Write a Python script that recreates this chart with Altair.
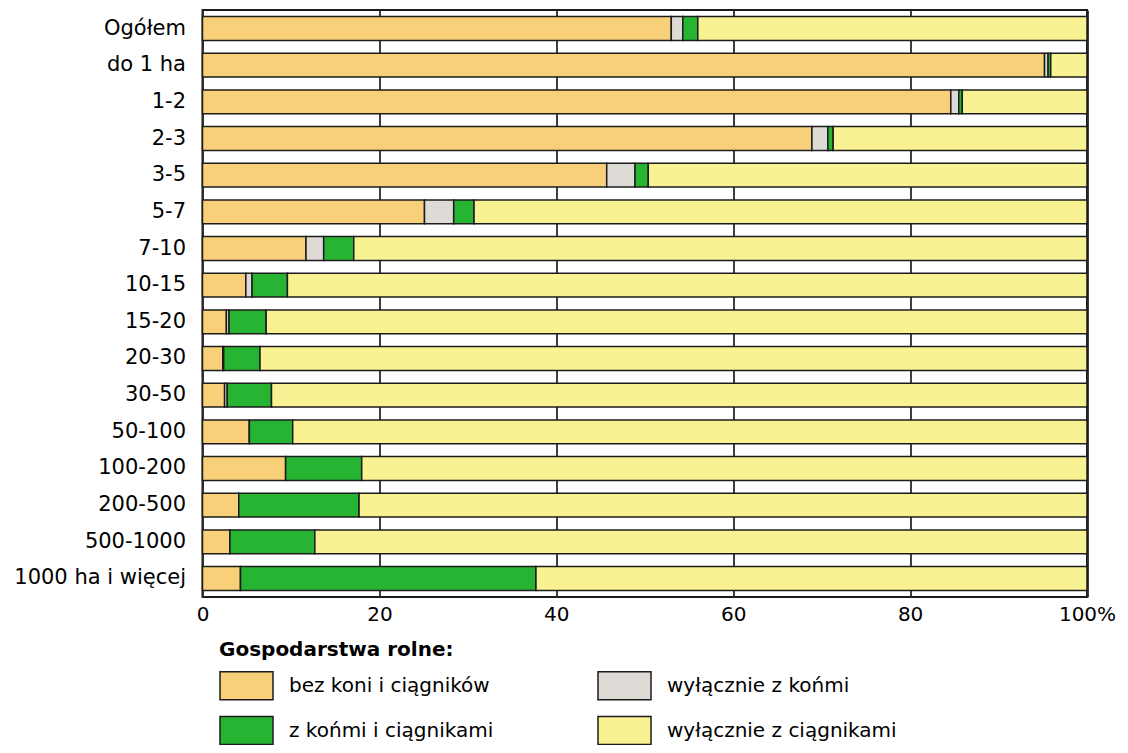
import altair as alt
import pandas as pd

categories = ["Ogółem", "do 1 ha", "1-2", "2-3", "3-5", "5-7", "7-10", "10-15",
              "15-20", "20-30", "30-50", "50-100", "100-200", "200-500",
              "500-1000", "1000 ha i więcej"]
bez_koni = [53.0, 95.2, 84.6, 68.9, 45.7, 25.1, 11.7, 4.9, 2.7, 2.3, 2.5, 5.3, 9.4, 4.1, 3.1, 4.3]
tylko_konie = [1.3, 0.4, 0.9, 1.8, 3.2, 3.3, 2.0, 0.7, 0.3, 0.1, 0.3, 0.0, 0.0, 0.0, 0.0, 0.0]
konie_ciagniki = [1.7, 0.3, 0.4, 0.6, 1.5, 2.3, 3.4, 4.0, 4.2, 4.1, 5.0, 4.9, 8.6, 13.6, 9.6, 33.4]
tylko_ciagniki = [44.0, 4.1, 14.1, 28.7, 49.6, 69.3, 82.9, 90.4, 92.8, 93.5, 92.2, 89.8, 82.0, 82.3, 87.3, 62.3]

series = ["bez koni i ciągników", "wyłącznie z końmi", "z końmi i ciągnikami", "wyłącznie z ciągnikami"]
colors = ["#F8D07A", "#DEDBD7", "#27B432", "#F8F293"]

rows = []
for i, c in enumerate(categories):
    for k, (name, vals) in enumerate(zip(series, [bez_koni, tylko_konie, konie_ciagniki, tylko_ciagniki])):
        rows.append({"kategoria": c, "seria": name, "rank": k, "wartosc": vals[i]})
df = pd.DataFrame(rows)

DARK = "#1c1c1c"

chart = alt.Chart(df).mark_bar(stroke=DARK, strokeWidth=1.5).encode(
    x=alt.X("wartosc:Q", stack="zero",
            scale=alt.Scale(domain=[0, 100], nice=False),
            axis=alt.Axis(values=[0, 20, 40, 60, 80, 100],
                          labelExpr="datum.value == 100 ? '100%' : datum.label",
                          title=None, grid=True, ticks=False, domain=False,
                          labelFlush=False,
                          labelFontSize=20, labelPadding=7, labelColor="black",
                          gridColor="#2a2a2a", gridWidth=1.8)),
    y=alt.Y("kategoria:N", sort=categories,
            scale=alt.Scale(paddingInner=0.35, paddingOuter=0.18),
            axis=alt.Axis(title=None, ticks=False, domain=False, labelFontSize=21,
                          labelPadding=17, labelColor="black", labelLimit=300)),
    color=alt.Color("seria:N", scale=alt.Scale(domain=series, range=colors),
                    legend=alt.Legend(title="Gospodarstwa rolne:", orient="none",
                                      direction="horizontal",
                                      legendX=16.5, legendY=630, columns=2,
                                      columnPadding=101, rowPadding=-10,
                                      symbolType="M-1,-0.528L1,-0.528L1,0.528L-1,0.528Z",
                                      symbolSize=2809, symbolStrokeColor=DARK,
                                      symbolStrokeWidth=1.5, symbolOpacity=1,
                                      labelFontSize=20, labelOffset=15, labelColor="black",
                                      titleFontSize=20, titleFontWeight="bold",
                                      titleColor="black", titlePadding=-2,
                                      titleLimit=500,
                                      labelLimit=400, padding=0)),
    order=alt.Order("rank:Q"),
).properties(
    width=884.5, height=587,
    autosize=alt.AutoSizeParams(type="none"),
    padding={"left": 194.5, "top": 2, "right": 32, "bottom": 148},
).configure(
    font="DejaVu Sans",
).configure_view(
    stroke=DARK, strokeWidth=2,
)

chart.save("out.html", embed_options={"renderer": "svg", "actions": False})
